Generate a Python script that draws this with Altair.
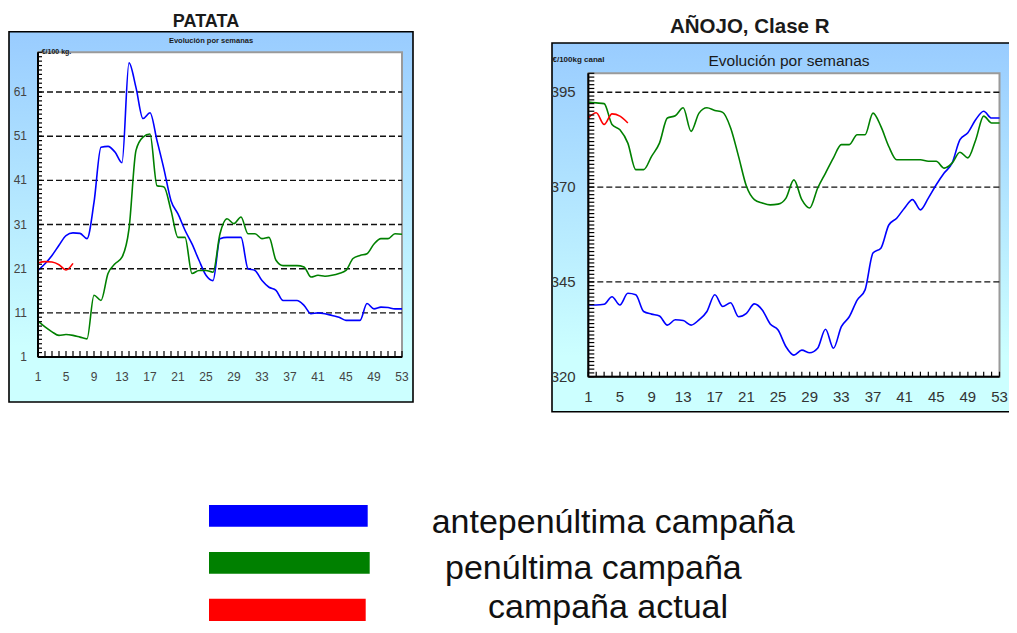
import altair as alt
import pandas as pd

# ---------------- data ----------------
weeks = list(range(1, 54))
actual_weeks = list(range(1, 7))
series_names = ["antepenúltima campaña", "penúltima campaña", "campaña actual"]
series_colors = ["#0000ff", "#008000", "#ff0000"]

patata_ante = [20.6, 22.1, 24.0, 26.3, 28.5, 29.1, 29.0, 27.8, 36.0, 48.5,
               48.7, 47.4, 45.0, 67.6, 62.0, 55.0, 56.3, 50.0, 43.5, 36.4,
               33.4, 29.7, 26.6, 22.9, 19.5, 18.3, 27.8, 28.1, 28.1, 28.1,
               21.0, 20.6, 18.3, 16.8, 16.1, 13.8, 13.8, 13.8, 12.7, 10.8,
               11.0, 10.8, 10.4, 10.0, 9.3, 9.3, 9.3, 13.1, 11.9, 12.3,
               12.2, 11.9, 11.9]
patata_penul = [9.1, 7.8, 6.7, 5.9, 6.1, 5.9, 5.5, 5.1, 15.0, 13.8,
                19.9, 22.1, 23.6, 30.0, 47.8, 50.8, 51.5, 39.8, 39.5, 34.2,
                28.1, 28.1, 19.9, 20.6, 20.6, 20.2, 28.9, 32.3, 31.2, 32.7,
                28.9, 28.9, 27.8, 28.1, 22.9, 21.7, 21.7, 21.7, 21.4, 19.1,
                19.5, 19.3, 19.5, 19.9, 20.6, 23.3, 24.0, 24.4, 26.6, 27.8,
                27.8, 28.9, 28.8]
patata_actual = [22.3, 22.6, 22.5, 21.9, 20.7, 22.2]

anojo_ante = [338.9, 338.9, 339.1, 341.1, 338.9, 342.0, 341.6, 337.2, 336.5, 336.0,
              333.6, 335.0, 334.8, 333.6, 335.0, 337.2, 341.6, 338.5, 339.5, 335.8,
              336.7, 339.2, 337.6, 333.9, 332.3, 327.9, 325.7, 327.0, 326.3, 327.5,
              332.5, 327.5, 333.2, 335.8, 340.2, 342.9, 352.6, 353.9, 360.0, 361.8,
              364.5, 366.7, 364.0, 367.1, 370.6, 373.7, 376.3, 382.5, 384.3, 387.8,
              390.0, 388.2, 388.2]
anojo_penul = [392.4, 392.2, 392.0, 386.5, 385.1, 381.6, 374.6, 374.6, 378.1, 381.6,
               388.2, 388.8, 390.9, 384.7, 389.5, 390.9, 390.2, 389.7, 385.6, 378.1,
               370.2, 366.7, 365.8, 365.3, 365.5, 367.1, 371.9, 366.7, 364.5, 369.7,
               373.7, 377.7, 381.2, 381.2, 383.8, 383.8, 389.5, 386.0, 380.7, 377.2,
               377.2, 377.2, 377.2, 376.8, 376.8, 375.0, 376.3, 379.2, 377.7, 382.5,
               388.7, 386.9, 386.9]
anojo_actual = [388.2, 389.6, 386.5, 389.3, 388.7, 386.9]

patata_y_labels = [1, 11, 21, 31, 41, 51, 61]
patata_grid = [11, 21, 31, 41, 51, 61]
patata_y_ticks = list(range(1, 71))
anojo_y_labels = [320, 345, 370, 395]
anojo_grid = [345, 370, 395]
anojo_y_ticks = list(range(320, 401))
week_labels = list(range(1, 54, 4))

# ---------------- layout / style ----------------
W, H = 1001, 617
FONT = "Liberation Sans"
GRAD = alt.LinearGradient(
    gradient="linear",
    stops=[alt.GradientStop(color="#99ccff", offset=0),
           alt.GradientStop(color="#ccffff", offset=0.85),
           alt.GradientStop(color="#ccffff", offset=1)],
    x1=0, x2=0, y1=0, y2=1)


def long_df(ante, penul, actual):
    rows = []
    for w, v in zip(weeks, ante):
        rows.append({"week": w, "value": v, "series": series_names[0]})
    for w, v in zip(weeks, penul):
        rows.append({"week": w, "value": v, "series": series_names[1]})
    for w, v in zip(actual_weeks, actual):
        rows.append({"week": w, "value": v, "series": series_names[2]})
    return pd.DataFrame(rows)


def text(t, x, y, size, weight="normal", align="center", color="#1a1a1a"):
    return alt.Chart(pd.DataFrame({"k": [0]})).mark_text(
        text=t, font=FONT, fontSize=size, fontWeight=weight, align=align,
        baseline="alphabetic", color=color
    ).encode(x=alt.value(x), y=alt.value(y))


def panel(df, cfg):
    xd, yd = cfg["xdom"], cfg["ydom"]
    xr, yr = cfg["xrange"], cfg["yrange"]

    def sx():
        return alt.Scale(domain=xd, range=xr, nice=False, zero=False)

    def sy():
        return alt.Scale(domain=yd, range=yr, nice=False, zero=False)

    one = pd.DataFrame({"k": [0]})
    box = pd.DataFrame({"x0": [xd[0]], "x1": [xd[1]], "y0": [yd[0]], "y1": [yd[1]]})
    layers = []
    px0, px1, py0, py1 = cfg["panel"]
    layers.append(alt.Chart(one).mark_rect(fill=GRAD, stroke="black", strokeWidth=1.6).encode(
        x=alt.value(px0), x2=alt.value(px1), y=alt.value(py0), y2=alt.value(py1)))
    layers.append(alt.Chart(box).mark_rect(fill="white", stroke="#9a9a9a", strokeWidth=2).encode(
        x=alt.X("x0:Q", scale=sx(), axis=None), x2="x1:Q",
        y=alt.Y("y0:Q", scale=sy(), axis=None), y2="y1:Q"))
    # dashed gridlines
    layers.append(alt.Chart(pd.DataFrame({"v": cfg["grid"]})).mark_rule(
        color="#111", strokeWidth=1.4, strokeDash=[6, 3]).encode(
        y=alt.Y("v:Q", scale=sy(), axis=None), x=alt.value(xr[0]), x2=alt.value(xr[1])))
    # series lines
    layers.append(alt.Chart(df).mark_line(interpolate="monotone", strokeWidth=1.6).encode(
        x=alt.X("week:Q", scale=sx(), axis=None),
        y=alt.Y("value:Q", scale=sy(), axis=None),
        color=alt.Color("series:N", scale=alt.Scale(domain=series_names, range=series_colors),
                        legend=None)))
    # axis lines
    layers.append(alt.Chart(one).mark_rule(color="black", strokeWidth=2).encode(
        x=alt.value(xr[0]), y=alt.value(yr[1]), y2=alt.value(yr[0])))
    layers.append(alt.Chart(one).mark_rule(color="black", strokeWidth=2).encode(
        y=alt.value(yr[0]), x=alt.value(xr[0]), x2=alt.value(xr[1])))
    # ticks
    layers.append(alt.Chart(pd.DataFrame({"v": cfg["yticks"]})).mark_rule(
        color="black", strokeWidth=1.2).encode(
        y=alt.Y("v:Q", scale=sy(), axis=None), x=alt.value(xr[0]),
        x2=alt.value(xr[0] + cfg["ytick_len"])))
    layers.append(alt.Chart(pd.DataFrame({"week": weeks})).mark_rule(
        color="black", strokeWidth=1.2).encode(
        x=alt.X("week:Q", scale=sx(), axis=None), y=alt.value(yr[0]),
        y2=alt.value(yr[0] - cfg["xtick_len"])))
    # tick labels
    layers.append(alt.Chart(pd.DataFrame({"v": cfg["ylabels"]})).mark_text(
        align="right", baseline="middle", font=FONT, fontSize=cfg["lab_size"],
        color=cfg["lab_color"]).encode(
        y=alt.Y("v:Q", scale=sy(), axis=None), x=alt.value(cfg["ylab_x"]), text="v:Q"))
    layers.append(alt.Chart(pd.DataFrame({"week": week_labels})).mark_text(
        align="center", baseline="middle", font=FONT, fontSize=cfg["lab_size"],
        color=cfg["lab_color"]).encode(
        x=alt.X("week:Q", scale=sx(), axis=None), y=alt.value(cfg["xlab_y"]), text="week:Q"))
    return layers


patata_cfg = dict(xdom=[1, 53], ydom=[1, 70], xrange=[30, 394], yrange=[349, 44.3],
                  panel=(1, 405, 23.7, 394), grid=patata_grid, yticks=patata_y_ticks,
                  ylabels=patata_y_labels, ytick_len=4, xtick_len=6,
                  lab_size=12, lab_color="#444", ylab_x=19, xlab_y=368.7)
anojo_cfg = dict(xdom=[1, 53], ydom=[320, 400], xrange=[580.3, 991.5], yrange=[368.7, 65.3],
                 panel=(544, 1012, 35, 403.7), grid=anojo_grid, yticks=anojo_y_ticks,
                 ylabels=anojo_y_labels, ytick_len=6, xtick_len=5,
                 lab_size=15, lab_color="#333", ylab_x=567.7, xlab_y=388.7)

layers = []
layers += panel(long_df(patata_ante, patata_penul, patata_actual), patata_cfg)
layers += panel(long_df(anojo_ante, anojo_penul, anojo_actual), anojo_cfg)

# titles and small texts
layers.append(text("PATATA", 198, 18.7, 18, "bold"))
layers.append(text("Evolución por semanas", 203, 35.3, 7.5, "bold"))
layers.append(text("€/100 kg.", 33.7, 45.5, 7, "bold", align="left"))
layers.append(text("AÑOJO, Clase R", 741.7, 25.3, 20.5, "bold"))
layers.append(text("Evolución por semanas", 781, 57.7, 15.5))
layers.append(text("€/100kg canal", 544.5, 54, 8, "bold", align="left"))

# legend
legend_rect_y = [(497, 518.7), (544, 565.7), (590.7, 613)]
legend_rect_x = [(201, 359.7), (201, 361.7), (201, 357.7)]
legend_text_pos = [(423.7, 524.7), (437, 571.3), (480, 609.5)]
for name, col, (y0, y1), (x0, x1), (tx, ty) in zip(series_names, series_colors, legend_rect_y,
                                                   legend_rect_x, legend_text_pos):
    layers.append(alt.Chart(pd.DataFrame({"k": [0]})).mark_rect(color=col).encode(
        x=alt.value(x0), x2=alt.value(x1), y=alt.value(y0), y2=alt.value(y1)))
    layers.append(text(name, tx, ty, 34, align="left", color="#111"))

chart = alt.layer(*layers).resolve_scale(
    x="independent", y="independent", color="independent"
).properties(
    width=W, height=H, padding=0, autosize=alt.AutoSizeParams(type="none")
).configure_view(strokeWidth=0)

chart.save("out.html", embed_options={"renderer": "svg", "actions": False})
